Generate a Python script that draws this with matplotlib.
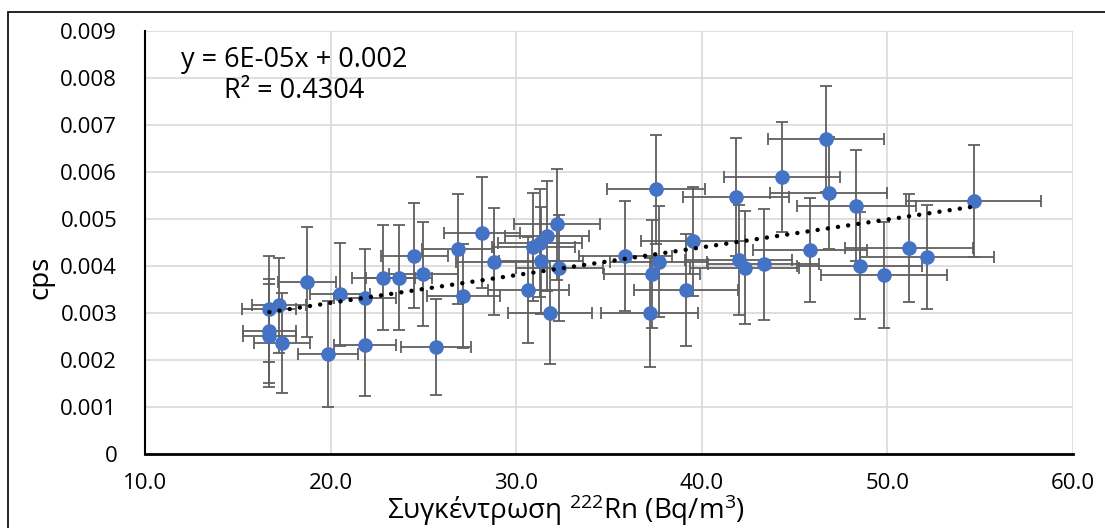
import numpy as np
import matplotlib
matplotlib.use("Agg")
import matplotlib.pyplot as plt
from matplotlib.patches import Rectangle

plt.rcParams['font.family'] = ['Open Sans', 'DejaVu Sans']

# ---- data ----
rn_conc = [16.70, 17.22, 16.70, 16.70, 17.37, 18.72, 20.51, 21.86, 19.85, 21.86,
           22.85, 23.69, 24.52, 25.00, 25.69, 26.86, 28.18, 27.16, 28.83, 30.66,
           31.83, 30.93, 31.29, 31.65, 32.19, 31.35, 32.33, 35.88, 37.53, 37.67,
           37.32, 37.19, 39.52, 39.16, 41.84, 41.98, 42.31, 43.33, 44.32, 46.70,
           46.84, 45.81, 48.33, 48.51, 49.80, 51.15, 52.14, 54.65]
cps = [0.00308, 0.00316, 0.00262, 0.00252, 0.00236, 0.00367, 0.00340, 0.00331, 0.00212, 0.00232,
       0.00375, 0.00375, 0.00422, 0.00383, 0.00228, 0.00436, 0.00471, 0.00336, 0.00409, 0.00349,
       0.00301, 0.00441, 0.00448, 0.00464, 0.00489, 0.00411, 0.00396, 0.00421, 0.00563, 0.00409,
       0.00383, 0.00301, 0.00453, 0.00349, 0.00547, 0.00413, 0.00396, 0.00404, 0.00590, 0.00670,
       0.00555, 0.00434, 0.00528, 0.00401, 0.00381, 0.00438, 0.00419, 0.00538]
rn_err = [1.45, 1.47, 1.43, 1.43, 1.50, 1.55, 1.62, 1.66, 1.60, 1.67,
          1.72, 1.76, 1.82, 1.85, 1.88, 1.95, 2.05, 1.96, 2.08, 2.20,
          2.27, 2.22, 2.25, 2.27, 2.30, 2.25, 2.32, 2.52, 2.62, 2.63,
          2.60, 2.60, 2.80, 2.80, 2.87, 2.90, 2.92, 2.98, 3.10, 3.14,
          3.14, 3.07, 3.20, 3.37, 3.40, 3.44, 3.60, 3.64]
cps_err = [0.00113, 0.00102, 0.00110, 0.00110, 0.00106, 0.00117, 0.00110, 0.00106, 0.00113, 0.00109,
           0.00112, 0.00112, 0.00112, 0.00111, 0.00102, 0.00117, 0.00118, 0.00110, 0.00114, 0.00112,
           0.00110, 0.00115, 0.00115, 0.00117, 0.00118, 0.00114, 0.00113, 0.00117, 0.00116, 0.00118,
           0.00115, 0.00116, 0.00116, 0.00119, 0.00126, 0.00117, 0.00120, 0.00118, 0.00117, 0.00113,
           0.00119, 0.00110, 0.00118, 0.00113, 0.00112, 0.00115, 0.00111, 0.00119]

x_ticks = [10, 20, 30, 40, 50, 60]
x_tick_labels = ["10.0", "20.0", "30.0", "40.0", "50.0", "60.0"]
y_ticks = [0, 0.001, 0.002, 0.003, 0.004, 0.005, 0.006, 0.007, 0.008, 0.009]
y_tick_labels = ["0", "0.001", "0.002", "0.003", "0.004", "0.005", "0.006", "0.007", "0.008", "0.009"]
eq_text = "y = 6E-05x + 0.002"
r2_text = "R² = 0.4304"
x_label = "Συγκέντρωση $^{222}$Rn (Bq/m$^{3}$)"
y_label = "cps"

plt.rcParams['mathtext.fontset'] = 'custom'
plt.rcParams['mathtext.rm'] = 'Open Sans'
plt.rcParams['mathtext.it'] = 'Open Sans'

W, H = 1105, 528
fig = plt.figure(figsize=(W / 100, H / 100), dpi=100)
ax = fig.add_axes([145 / W, 1 - 454 / H, (1073 - 145) / W, (454 - 31) / H])

# figure border (left and top visible)
fig.patches.append(Rectangle((8 / W, -0.5), 1.5, 1.5 - 12 / H,
                             transform=fig.transFigure, fill=False,
                             edgecolor='black', linewidth=1.2))

x = np.array(rn_conc)
y = np.array(cps)

ax.errorbar(x, y, xerr=rn_err, yerr=cps_err, fmt='none', ecolor='#5f5f5f',
            elinewidth=1.3, capsize=4.5, capthick=1.3, zorder=2)
ax.plot(x, y, 'o', color='#4472C4', markersize=9.5, zorder=3)

coef = np.polyfit(x, y, 1)
xl = np.array([x.min(), x.max()])
ax.plot(xl, np.polyval(coef, xl), color='black', linewidth=3.2,
        linestyle=(0, (0.01, 2.3)), dash_capstyle='round', zorder=4)

ax.set_xlim(10, 60)
ax.set_ylim(0, 0.009)
ax.set_xticks(x_ticks)
ax.set_xticklabels(x_tick_labels)
ax.set_yticks(y_ticks)
ax.set_yticklabels(y_tick_labels)
ax.tick_params(axis='both', length=0, labelsize=16, colors='black')
ax.tick_params(axis='y', pad=20)
ax.tick_params(axis='x', pad=14)
ax.grid(True, color='#d9d9d9', linewidth=1.2, zorder=0)
ax.set_axisbelow(True)
for s in ['top', 'right']:
    ax.spines[s].set_visible(False)
ax.spines['left'].set_linewidth(1.5)
ax.spines['bottom'].set_linewidth(2.0)
ax.spines['left'].set_zorder(5)
ax.spines['bottom'].set_zorder(5)

ax.text(18.03, 0.00823, eq_text, ha='center', va='baseline', fontsize=19.5)
ax.text(18.03, 0.00757, r2_text, ha='center', va='baseline', fontsize=19.5)

fig.text(566 / W, 1 - 519 / H, x_label, ha='center', va='baseline', fontsize=20)
fig.text(40 / W, 1 - 277 / H, y_label, ha='center', va='center', rotation=90, fontsize=20)

fig.savefig("out.png", dpi=100)
